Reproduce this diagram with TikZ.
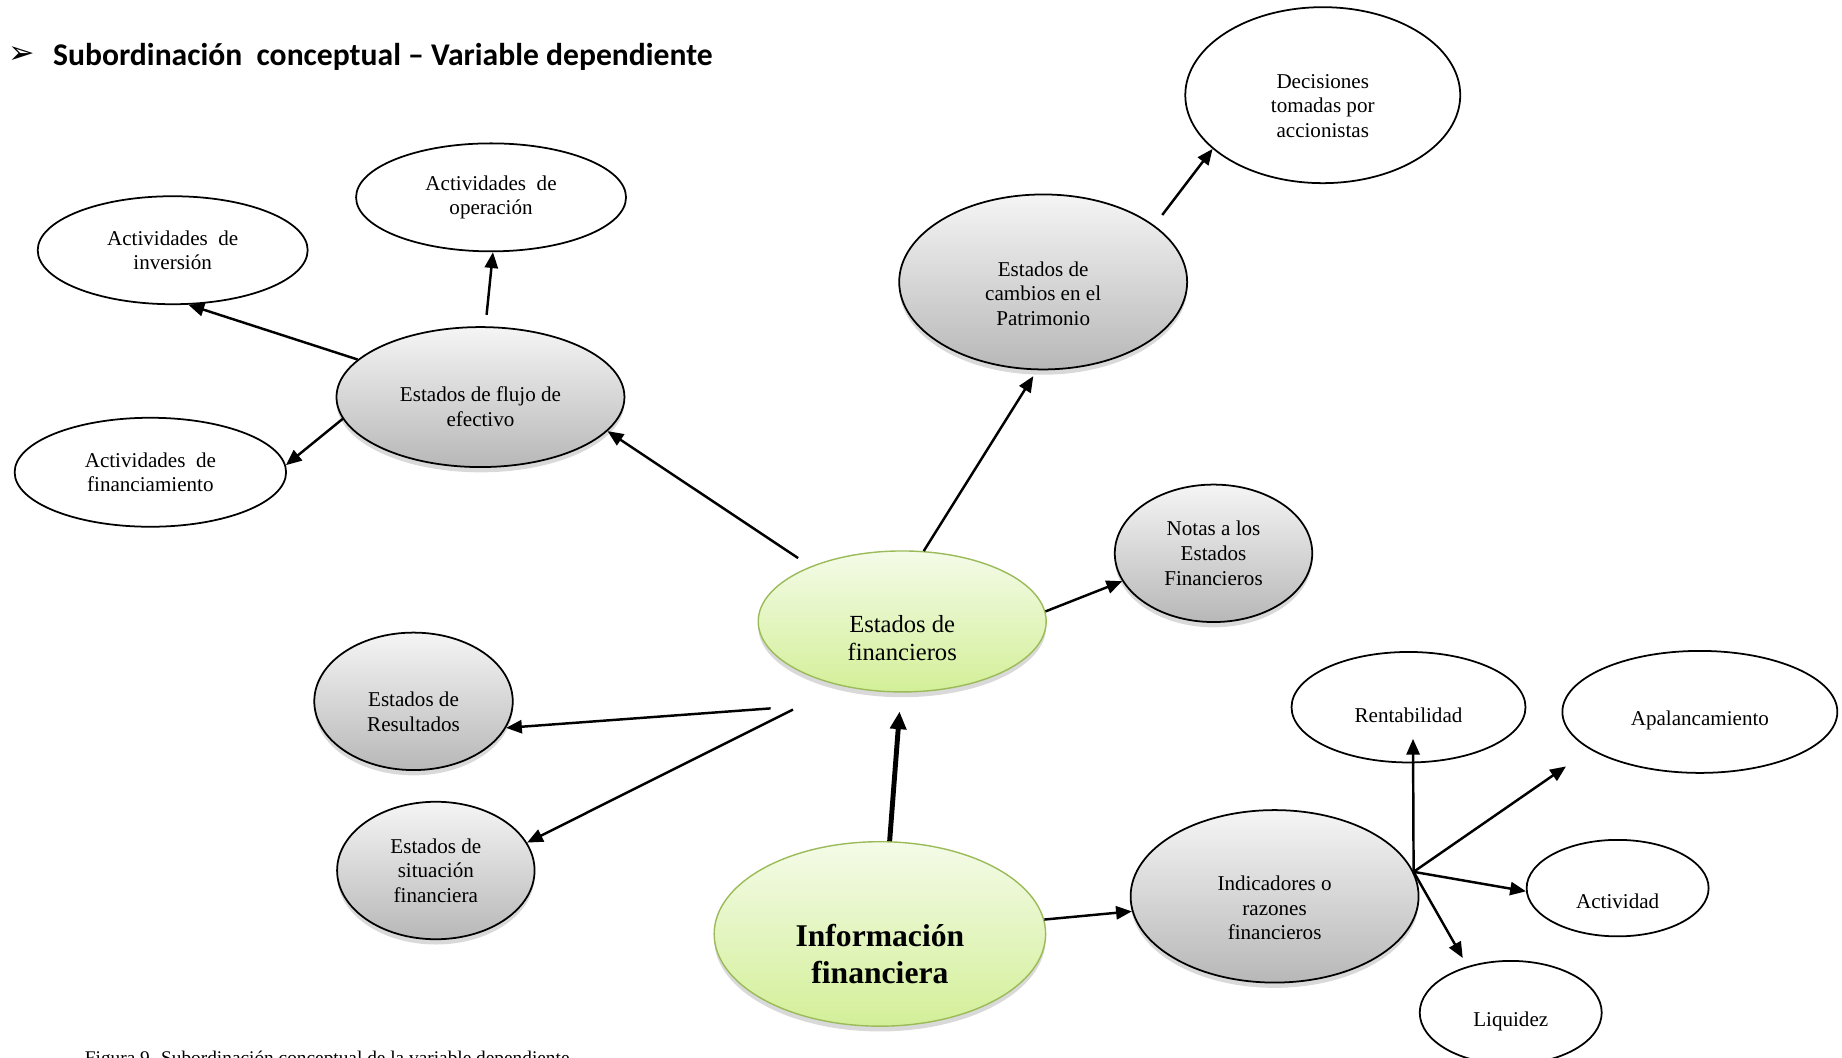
\documentclass[tikz,border=0pt]{standalone}
\usepackage{fontspec}
\setmainfont{Liberation Serif}
\newfontfamily\titlefont{Carlito}
\newfontfamily\symbolfont{DejaVu Sans}
\usetikzlibrary{shadows}
\usetikzlibrary{arrows.meta,shapes}
\usetikzlibrary{calc}
\definecolor{greenborder}{HTML}{9BBB59}
\definecolor{greentop}{HTML}{F4FBE8}
\definecolor{greenbottom}{HTML}{D3EF98}
\tikzstyle{whitevertex}=[ellipse,draw,line width=1pt,fill=white,inner sep=0pt,align=center,font=\fontsize{12}{14}\selectfont]
\tikzstyle{grayvertex}=[ellipse,draw,line width=1pt,top color=black!4,bottom color=black!28,inner sep=0pt,align=center,font=\fontsize{12}{14}\selectfont,drop shadow={shadow xshift=0pt,shadow yshift=-3pt,opacity=0.3}]
\tikzstyle{greenvertex}=[ellipse,draw=greenborder,line width=0.8pt,top color=greentop,bottom color=greenbottom,inner sep=0pt,align=center,drop shadow={shadow xshift=0pt,shadow yshift=-3pt,opacity=0.3}]
\tikzstyle{edge} = [draw,line width=1.4pt,-{Triangle[length=9pt,width=7.5pt]}]
\tikzstyle{thickedge} = [draw,line width=2.8pt,-{Triangle[length=10pt,width=9pt]}]

\begin{document}
\begin{tikzpicture}[x=0.023494cm,y=-0.023494cm]
\useasboundingbox (0,0) rectangle (1568,900);

%titulo
    \node[anchor=west] (bullet) at (2,47) {\symbolfont\fontsize{18}{20}\selectfont ➢};
    \node[anchor=west] (title) at (40,48) {\titlefont\bfseries\fontsize{18}{21}\selectfont Subordinación\ \ conceptual – Variable dependiente};

  % \dy = alto del puntal que baja el texto
  \foreach \pos/\name/\w/\h/\dy/\label in {{(147,213)/inversion/5.40/2.16/0/{Actividades\ \ de\\inversión}},
        {(418,168)/operacion/5.40/2.16/0/{Actividades\ \ de\\operación}},
        {(128,402)/financiamiento/5.43/2.18/0/{Actividades\ \ de\\financiamiento}},
        {(1126,81)/decisiones/5.50/3.52/20.2/{Decisiones\\tomadas por\\accionistas}},
        {(1199,602)/rentabilidad/4.68/2.21/17.6/{Rentabilidad}},
        {(1447,606)/apalancamiento/5.50/2.44/17.6/{Apalancamiento}},
        {(1377,756)/actividad/3.64/1.93/23/{Actividad}},
        {(1286,862)/liquidez/3.64/2.07/18.8/{Liquidez}}}
        \node[whitevertex,minimum width=\w cm,minimum height=\h cm] (\name) at \pos {\rule{0pt}{\dy pt}\label};

  \foreach \pos/\name/\w/\h/\dy/\label in {{(409,338)/flujo/5.76/2.80/19.6/{Estados de flujo de\\efectivo}},
        {(888,240)/cambios/5.76/3.50/21.6/{Estados de\\cambios en el\\Patrimonio}},
        {(1033,471)/notas/3.95/2.75/0/{Notas a los\\Estados\\Financieros}},
        {(352,597)/resultados/3.97/2.75/20.2/{Estados de\\Resultados}},
        {(371,741)/situacion/3.95/2.75/0/{Estados de\\situación\\financiera}},
        {(1085,763)/indicadores/5.76/3.45/21.6/{Indicadores o\\razones\\financieros}}}
        \node[grayvertex,minimum width=\w cm,minimum height=\h cm] (\name) at \pos {\rule{0pt}{\dy pt}\label};

    \node[greenvertex,minimum width=5.76cm,minimum height=2.82cm,font=\fontsize{14}{16}\selectfont] (estados) at (768,529) {\rule{0pt}{28.4pt}Estados de\\financieros};
    \node[greenvertex,minimum width=6.63cm,minimum height=3.69cm,font=\fontsize{18}{21}\selectfont\bfseries] (informacion) at (749,795) {\rule{0pt}{35.4pt}Información\\financiera};

    % Connect vertices with edges
   \foreach \source/ \dest in {flujo.163/inversion.-74, flujo.189/financiamiento.3, estados.4/notas.197, informacion.5/indicadores.186, indicadores.10/actividad.182}
          \path[edge] (\source) -- (\dest);

   \path[edge, shorten <=0.23cm] (flujo.86) -- (operacion.-88);
   \path[edge, shorten <=0.3cm] (estados.149) -- (flujo.-15);
   \path[edge, shorten >=0.14cm] (estados.73) -- (cambios.-94);
   \path[edge, shorten <=0.26cm] (cambios.27) -- (decisiones.206);

    \coordinate (rstart) at (656,603);
    \coordinate (sstart) at (675,604);
   \path[edge] (rstart) -- (resultados.-16);
   \path[edge] (sstart) -- (situacion.17);

   \path[thickedge, shorten >=0.38cm] (informacion.84) -- (estados.-91);

   \path[edge] (indicadores.10) -- ([xshift=0.09cm,yshift=0.49cm]rentabilidad.south);
   \path[edge, shorten >=0.59cm] (indicadores.10) -- (apalancamiento.199);
   \path[edge, shorten >=0.19cm] (indicadores.10) -- (liquidez.133);

%pie de figura
    \node[anchor=base west] (caption) at (67,906) {\fontsize{11}{13}\selectfont Figura 9. Subordinación conceptual de la variable dependiente};

\end{tikzpicture}
\end{document}
